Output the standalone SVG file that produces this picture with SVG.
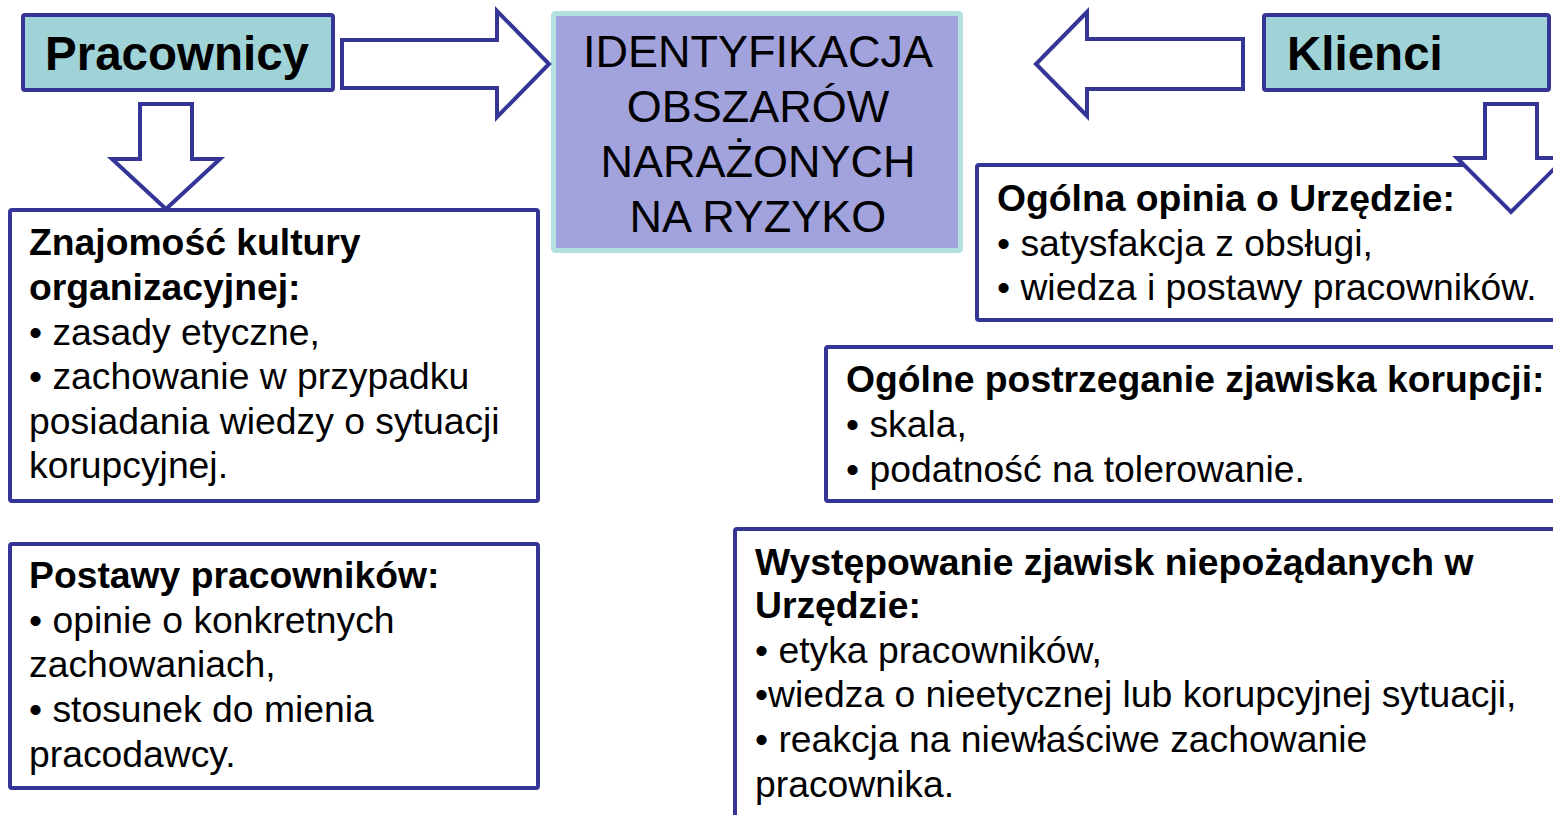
<svg xmlns="http://www.w3.org/2000/svg" width="1553" height="815" viewBox="0 0 1553 815">
<style>
text{font-family:"Liberation Sans",Arial,sans-serif;fill:#000}
.box{fill:#fff;stroke:#353597;stroke-width:4}
.hdr{fill:#9FD3D7;stroke:#353597;stroke-width:4}
.arr{fill:#fff;stroke:#353597;stroke-width:4;stroke-linejoin:miter}
.b{font-weight:bold;font-size:37.3px}
.r{font-size:37.3px}
.big{font-weight:bold;font-size:47.5px}
.ctr{font-size:45px;text-anchor:middle}
</style>
<rect x="0" y="0" width="1553" height="815" fill="#fff"/>
<g id="pracownicy">
<rect class="hdr" x="23" y="15" width="310" height="75" rx="2"/>
<text class="big" x="45" y="70">Pracownicy</text>
</g>
<g id="klienci">
<rect class="hdr" x="1264" y="15" width="285" height="75" rx="2"/>
<text class="big" x="1287" y="70">Klienci</text>
</g>
<g id="identyfikacja">
<rect x="553.5" y="13.5" width="407" height="237" fill="#A2A2DD" stroke="#B4E0E2" stroke-width="5" rx="2"/>
<text class="ctr" x="758" y="67">IDENTYFIKACJA</text>
<text class="ctr" x="758" y="122">OBSZARÓW</text>
<text class="ctr" x="758" y="177">NARAŻONYCH</text>
<text class="ctr" x="758" y="232">NA RYZYKO</text>
</g>
<g id="znajomosc">
<rect class="box" x="10" y="210" width="528" height="291" rx="2"/>
<text class="b" x="29" y="255">Znajomość kultury</text>
<text class="b" x="29" y="300">organizacyjnej:</text>
<text class="r" x="29" y="345">• zasady etyczne,</text>
<text class="r" x="29" y="389">• zachowanie w przypadku</text>
<text class="r" x="29" y="434">posiadania wiedzy o sytuacji</text>
<text class="r" x="29" y="478">korupcyjnej.</text>
</g>
<g id="postawy">
<rect class="box" x="10" y="544" width="528" height="244" rx="2"/>
<text class="b" x="29" y="588">Postawy pracowników:</text>
<text class="r" x="29" y="633">• opinie o konkretnych</text>
<text class="r" x="29" y="677">zachowaniach,</text>
<text class="r" x="29" y="722">• stosunek do mienia</text>
<text class="r" x="29" y="767">pracodawcy.</text>
</g>
<g id="opinia">
<rect class="box" x="977" y="165" width="600" height="155" rx="2"/>
<text class="b" x="997" y="211">Ogólna opinia o Urzędzie:</text>
<text class="r" x="997" y="256">• satysfakcja z obsługi,</text>
<text class="r" x="997" y="300">• wiedza i postawy pracowników.</text>
</g>
<g id="postrzeganie">
<rect class="box" x="826" y="347" width="750" height="154" rx="2"/>
<text class="b" x="846" y="392">Ogólne postrzeganie zjawiska korupcji:</text>
<text class="r" x="846" y="437">• skala,</text>
<text class="r" x="846" y="482">• podatność na tolerowanie.</text>
</g>
<g id="wystepowanie">
<rect class="box" x="735" y="529" width="850" height="320" rx="2"/>
<text class="b" x="755" y="575">Występowanie zjawisk niepożądanych w</text>
<text class="b" x="755" y="618">Urzędzie:</text>
<text class="r" x="755" y="663">• etyka pracowników,</text>
<text class="r" x="755" y="707">•wiedza o nieetycznej lub korupcyjnej sytuacji,</text>
<text class="r" x="755" y="752">• reakcja na niewłaściwe zachowanie</text>
<text class="r" x="755" y="797">pracownika.</text>
</g>
<g id="connectors">
<polygon class="arr" points="342,40 497,40 497,11 549,64 497,117 497,88 342,88"/>
<polygon class="arr" points="1243,39 1087,39 1087,12 1036,64 1087,116 1087,89 1243,89"/>
<polygon class="arr" points="140,104 192,104 192,159 220,159 166,209 112,159 140,159"/>
<polygon class="arr" points="1485,104 1537,104 1537,158 1565,158 1511,212 1457,158 1485,158"/>
</g>
</svg>
